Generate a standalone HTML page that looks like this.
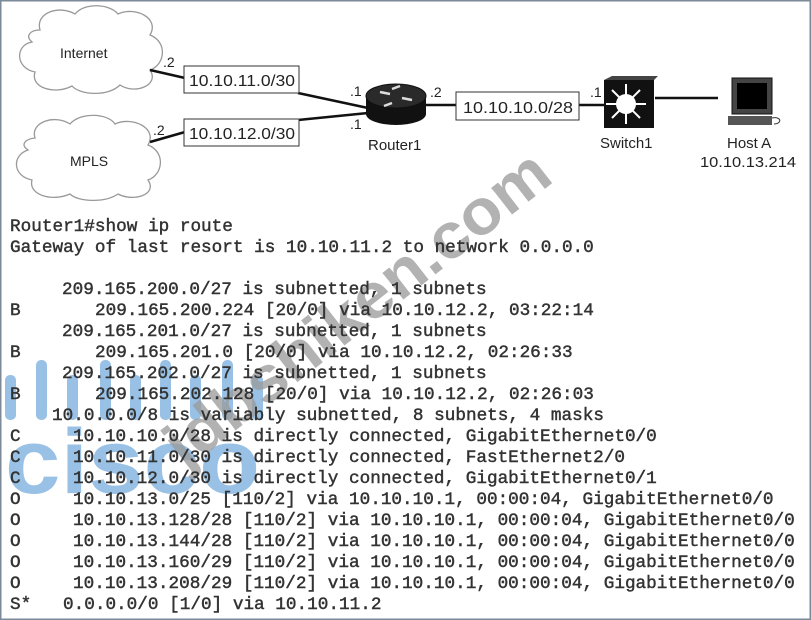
<!DOCTYPE html>
<html><head><meta charset="utf-8"><style>
html,body{margin:0;padding:0;background:#fff;}
svg{display:block;}
.m{font-family:"Liberation Mono",monospace;font-size:17.7px;font-weight:normal;fill:#333;stroke:#333;stroke-width:0.45;}
.s{font-family:"Liberation Sans",sans-serif;fill:#222;}
</style></head><body>
<svg width="811" height="620" viewBox="0 0 811 620" xmlns="http://www.w3.org/2000/svg">
<rect x="0.5" y="0.5" width="810" height="619" fill="#fff" stroke="#7d8a9a" stroke-width="2"/>
<path d="M40,30 C35,12 60,5 75,14 C85,2 110,4 118,14 C135,6 160,18 150,35 C168,42 165,65 150,70 C160,85 135,95 120,85 C108,97 80,95 72,86 C55,95 30,88 35,72 C15,68 15,45 32,42 C25,36 30,30 40,30 Z" fill="#fff" stroke="#999" stroke-width="1.3"/>
<path d="M35,138 C30,122 55,114 70,124 C80,112 108,113 115,124 C132,116 158,128 148,145 C166,152 163,175 148,180 C158,195 133,202 118,194 C105,203 78,202 70,194 C52,202 28,195 32,180 C12,176 12,155 28,150 C20,145 25,139 35,138 Z" fill="#fff" stroke="#999" stroke-width="1.3"/>
<text class="s" x="60" y="58" font-size="14">Internet</text>
<text class="s" x="70" y="166" font-size="14">MPLS</text>
<g stroke="#111" stroke-width="2.5" fill="none">
<line x1="150" y1="70" x2="185" y2="78"/>
<line x1="150" y1="142" x2="185" y2="132"/>
<line x1="298" y1="93" x2="368" y2="108"/>
<line x1="298" y1="120" x2="368" y2="113"/>
<line x1="425" y1="105" x2="457" y2="105"/>
<line x1="578" y1="105" x2="605" y2="105"/>
<line x1="655" y1="98" x2="718" y2="98"/>
</g>
<rect x="184" y="66" width="115" height="27" fill="#fff" stroke="#333" stroke-width="1"/>
<rect x="184" y="119" width="115" height="27" fill="#fff" stroke="#333" stroke-width="1"/>
<rect x="456" y="92" width="123" height="28" fill="#fff" stroke="#333" stroke-width="1"/>
<text class="s" x="189" y="86" font-size="16" textLength="106" lengthAdjust="spacingAndGlyphs">10.10.11.0/30</text>
<text class="s" x="189" y="139" font-size="16" textLength="106" lengthAdjust="spacingAndGlyphs">10.10.12.0/30</text>
<text class="s" x="463" y="113" font-size="16" textLength="110" lengthAdjust="spacingAndGlyphs">10.10.10.0/28</text>
<text class="s" x="163" y="67" font-size="14">.2</text>
<text class="s" x="153" y="135" font-size="14">.2</text>
<text class="s" x="350" y="96" font-size="14">.1</text>
<text class="s" x="350" y="129" font-size="14">.1</text>
<text class="s" x="430" y="97" font-size="14">.2</text>
<text class="s" x="590" y="97" font-size="14">.1</text>
<path d="M366,96 L366,114 A30,11 0 0 0 426,114 L426,96 Z" fill="#111"/>
<ellipse cx="396" cy="96" rx="30" ry="12" fill="#2a2a2a" stroke="#111"/>
<g stroke="#ddd" stroke-width="2.5"><line x1="380" y1="92" x2="390" y2="94"/><line x1="402" y1="98" x2="412" y2="100"/><line x1="392" y1="89" x2="400" y2="86"/><line x1="392" y1="103" x2="384" y2="106"/></g>
<text class="s" x="368" y="150" font-size="15">Router1</text>
<rect x="604" y="80" width="50" height="48" fill="#111"/>
<polygon points="604,80 612,76 658,76 654,80" fill="#444"/>
<circle cx="626" cy="104" r="10" fill="#fff"/>
<g stroke="#fff" stroke-width="2"><line x1="626" y1="84" x2="626" y2="124"/><line x1="606" y1="104" x2="646" y2="104"/><line x1="612" y1="90" x2="640" y2="118"/><line x1="640" y1="90" x2="612" y2="118"/></g>
<text class="s" x="600" y="148" font-size="15">Switch1</text>
<rect x="732" y="78" width="40" height="36" fill="#444" stroke="#111"/>
<rect x="737" y="83" width="30" height="26" fill="#000"/>
<rect x="728" y="116" width="44" height="9" fill="#555"/>
<path d="M772,118 C782,116 782,124 774,124" stroke="#333" fill="none"/>
<text class="s" x="727" y="148" font-size="15">Host A</text>
<text class="s" x="700" y="167" font-size="15" textLength="96" lengthAdjust="spacingAndGlyphs">10.10.13.214</text>
<g fill="#6fa8dc" opacity="0.7">
<rect x="5" y="375" width="11" height="45" rx="5"/><rect x="36" y="360" width="11" height="60" rx="5"/><rect x="67" y="375" width="11" height="45" rx="5"/>
<rect x="100" y="360" width="11" height="60" rx="5"/><rect x="130" y="375" width="11" height="45" rx="5"/><rect x="160" y="360" width="11" height="60" rx="5"/>
<rect x="190" y="375" width="11" height="45" rx="5"/><rect x="222" y="360" width="11" height="60" rx="5"/><rect x="252" y="375" width="11" height="45" rx="5"/>
<text x="5" y="493" font-family="Liberation Sans,sans-serif" font-weight="bold" font-size="92" textLength="255" lengthAdjust="spacingAndGlyphs">cisco</text>
</g>
<text x="0" y="0" transform="translate(185,470) rotate(-38)" font-family="Liberation Sans,sans-serif" font-weight="bold" font-size="64" fill="#999" opacity="0.75" textLength="470" lengthAdjust="spacingAndGlyphs">jdbshiken.com</text>
<g class="m">
<text x="10" y="231">Router1#show ip route</text>
<text x="10" y="252">Gateway of last resort is 10.10.11.2 to network 0.0.0.0</text>
<text x="62" y="294">209.165.200.0/27 is subnetted, 1 subnets</text>
<text x="10" y="315">B</text><text x="95" y="315">209.165.200.224 [20/0] via 10.10.12.2, 03:22:14</text>
<text x="62" y="336">209.165.201.0/27 is subnetted, 1 subnets</text>
<text x="10" y="357">B</text><text x="95" y="357">209.165.201.0 [20/0] via 10.10.12.2, 02:26:33</text>
<text x="62" y="378">209.165.202.0/27 is subnetted, 1 subnets</text>
<text x="10" y="399">B</text><text x="95" y="399">209.165.202.128 [20/0] via 10.10.12.2, 02:26:03</text>
<text x="52" y="420">10.0.0.0/8 is variably subnetted, 8 subnets, 4 masks</text>
<text x="10" y="441">C</text><text x="73" y="441">10.10.10.0/28 is directly connected, GigabitEthernet0/0</text>
<text x="10" y="462">C</text><text x="73" y="462">10.10.11.0/30 is directly connected, FastEthernet2/0</text>
<text x="10" y="483">C</text><text x="73" y="483">10.10.12.0/30 is directly connected, GigabitEthernet0/1</text>
<text x="10" y="504">O</text><text x="73" y="504">10.10.13.0/25 [110/2] via 10.10.10.1, 00:00:04, GigabitEthernet0/0</text>
<text x="10" y="525">O</text><text x="73" y="525">10.10.13.128/28 [110/2] via 10.10.10.1, 00:00:04, GigabitEthernet0/0</text>
<text x="10" y="546">O</text><text x="73" y="546">10.10.13.144/28 [110/2] via 10.10.10.1, 00:00:04, GigabitEthernet0/0</text>
<text x="10" y="567">O</text><text x="73" y="567">10.10.13.160/29 [110/2] via 10.10.10.1, 00:00:04, GigabitEthernet0/0</text>
<text x="10" y="588">O</text><text x="73" y="588">10.10.13.208/29 [110/2] via 10.10.10.1, 00:00:04, GigabitEthernet0/0</text>
<text x="10" y="609">S*</text><text x="63" y="609">0.0.0.0/0 [1/0] via 10.10.11.2</text>
</g>
</svg>
</body></html>
